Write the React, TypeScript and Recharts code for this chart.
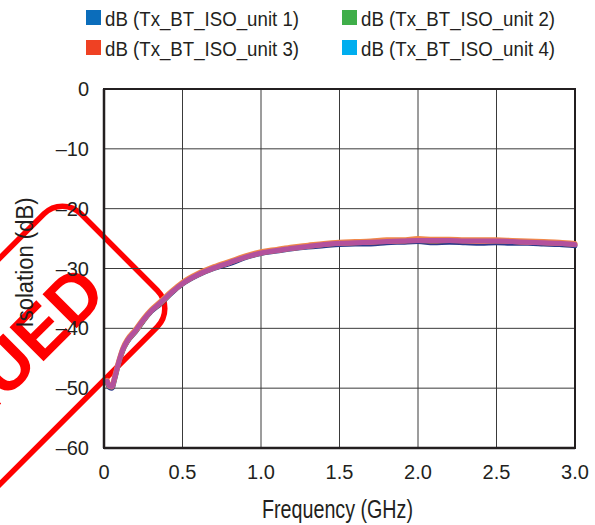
import React from "react";
import {
  LineChart,
  Line,
  XAxis,
  YAxis,
  CartesianGrid,
  ReferenceArea,
} from "recharts";

// frequency points (GHz)
const freqs = [
  0.02, 0.035, 0.05, 0.07, 0.09, 0.12, 0.15, 0.2, 0.25, 0.3, 0.36, 0.43, 0.5,
  0.6, 0.7, 0.8, 0.9, 1.0, 1.1, 1.2, 1.3, 1.4, 1.5, 1.6, 1.7, 1.8, 1.9, 2.0,
  2.1, 2.2, 2.3, 2.4, 2.5, 2.6, 2.7, 2.8, 2.9, 3.0,
];

// isolation per unit (dB)
const unit1 = [
  -49.0, -49.9, -50.0, -48.3, -46.2, -43.7, -42.2, -40.6, -38.8, -37.2, -35.9,
  -34.1, -32.6, -31.1, -30.0, -29.2, -28.2, -27.5, -27.1, -26.7, -26.4, -26.2,
  -26.0, -25.9, -25.9, -25.7, -25.6, -25.5, -25.7, -25.6, -25.7, -25.8, -25.7,
  -25.8, -25.8, -25.9, -26.0, -26.2,
];
const unit2 = [
  -48.9, -49.7, -49.8, -48.1, -46.1, -43.6, -42.1, -40.5, -38.7, -37.1, -35.8,
  -34.0, -32.5, -31.0, -29.9, -29.0, -28.1, -27.4, -27.0, -26.6, -26.3, -26.0,
  -25.8, -25.7, -25.6, -25.5, -25.4, -25.3, -25.4, -25.3, -25.4, -25.5, -25.4,
  -25.5, -25.6, -25.7, -25.8, -26.0,
];
const unit3 = [
  -48.7, -49.5, -49.6, -47.8, -45.8, -43.3, -41.8, -40.2, -38.4, -36.9, -35.5,
  -33.8, -32.3, -30.8, -29.7, -28.8, -27.9, -27.2, -26.8, -26.4, -26.1, -25.8,
  -25.6, -25.5, -25.4, -25.2, -25.2, -25.0, -25.1, -25.1, -25.2, -25.2, -25.2,
  -25.3, -25.4, -25.5, -25.6, -25.8,
];
const unit4 = [
  -48.8, -49.6, -49.7, -48.0, -46.0, -43.5, -42.0, -40.4, -38.6, -37.1, -35.7,
  -34.0, -32.5, -31.0, -29.9, -29.0, -28.1, -27.4, -27.0, -26.6, -26.3, -26.0,
  -25.8, -25.7, -25.6, -25.5, -25.4, -25.3, -25.3, -25.3, -25.4, -25.4, -25.4,
  -25.5, -25.6, -25.7, -25.8, -26.0,
];

const xTicks = [0, 0.5, 1.0, 1.5, 2.0, 2.5, 3.0];
const yTicks = [0, -10, -20, -30, -40, -50, -60];

const legendItems = [
  { name: "dB (Tx_BT_ISO_unit 1)", color: "#0b6dbb" },
  { name: "dB (Tx_BT_ISO_unit 2)", color: "#3fae49" },
  { name: "dB (Tx_BT_ISO_unit 3)", color: "#ef4123" },
  { name: "dB (Tx_BT_ISO_unit 4)", color: "#00aeef" },
];

// colours the traces actually show up as in the plot
const traceColors = ["#2d3a8c", "#e98a4e", "#f0884a", "#b3519d"];

const data = freqs.map((f, i) => ({
  f,
  u1: unit1[i],
  u2: unit2[i],
  u3: unit3[i],
  u4: unit4[i],
}));

const FONT = "'Liberation Sans', Arial, sans-serif";
const INK = "#231f20";

const YTitle = (props: any) => {
  const vb = props.viewBox || { y: 89, height: 359 };
  const bx = 33;
  const cy = vb.y + vb.height / 2 - 6;
  return (
    <text
      x={bx}
      y={cy}
      transform={`rotate(-90 ${bx} ${cy})`}
      textAnchor="middle"
      fontSize={23}
      fontFamily={FONT}
      fill={INK}
      textLength={130}
      lengthAdjust="spacingAndGlyphs"
    >
      Isolation (dB)
    </text>
  );
};

const XTitle = (props: any) => {
  const vb = props.viewBox || { x: 104, width: 471 };
  return (
    <text
      x={vb.x + vb.width / 2 - 2}
      y={518}
      textAnchor="middle"
      fontSize={25}
      fontFamily={FONT}
      fill={INK}
      textLength={151}
      lengthAdjust="spacingAndGlyphs"
    >
      Frequency (GHz)
    </text>
  );
};

function Stamp() {
  return (
    <svg
      width={595}
      height={525}
      style={{ position: "absolute", left: 0, top: 0, zIndex: 0 }}
    >
      <g transform="translate(119,252) rotate(-45)">
        <rect
          x={-540}
          y={-80}
          width={540}
          height={160}
          rx={26}
          fill="none"
          stroke="#ff0000"
          strokeWidth={5.5}
        />
        <text
          x={-38}
          y={0}
          textAnchor="end"
          dominantBaseline="central"
          fontSize={70}
          fontWeight="bold"
          fontFamily={FONT}
          fill="#ff0000"
        >
          DISCONTINUED
        </text>
      </g>
    </svg>
  );
}

function LegendBox() {
  return (
    <svg
      width={595}
      height={70}
      style={{ position: "absolute", left: 0, top: 0, zIndex: 2 }}
    >
      {legendItems.map((item, i) => {
        const x = i % 2 === 0 ? 86 : 342;
        const y = i < 2 ? 10 : 40;
        return (
          <g key={item.name}>
            <rect x={x} y={y} width={15} height={15} fill={item.color} />
            <text
              x={x + 19}
              y={y + 16}
              fontSize={21}
              fontFamily={FONT}
              fill={INK}
              textLength={194}
              lengthAdjust="spacingAndGlyphs"
            >
              {item.name}
            </text>
          </g>
        );
      })}
    </svg>
  );
}

export default function App() {
  const keys = ["u1", "u2", "u3", "u4"];
  return (
    <div
      style={{
        position: "absolute",
        left: 0,
        top: 0,
        width: 595,
        height: 525,
        background: "#fff",
        overflow: "hidden",
      }}
    >
      <Stamp />
      <LegendBox />

      <div style={{ position: "absolute", left: 0, top: 0, zIndex: 1 }}>
        <LineChart
          width={595}
          height={525}
          data={data}
          margin={{ top: 89, right: 20, bottom: 0, left: 0 }}
        >
          <CartesianGrid stroke="#3a3a3a" strokeWidth={1} />
          <XAxis
            dataKey="f"
            type="number"
            domain={[0, 3]}
            ticks={xTicks}
            height={77}
            tickSize={0}
            tickMargin={17}
            tickLine={false}
            axisLine={{ stroke: INK, strokeWidth: 2.5 }}
            tick={{ fontSize: 20, fontFamily: FONT, fill: INK }}
            tickFormatter={(v: number) => (v === 0 ? "0" : v.toFixed(1))}
            label={XTitle}
          />
          <YAxis
            type="number"
            domain={[-60, 0]}
            ticks={yTicks}
            width={104}
            tickSize={0}
            tickMargin={15}
            tickLine={false}
            axisLine={{ stroke: INK, strokeWidth: 2.5 }}
            tick={{ fontSize: 20, fontFamily: FONT, fill: INK }}
            tickFormatter={(v: number) => (v < 0 ? "\u2013" + Math.abs(v) : String(v))}
            label={YTitle}
          />
          <ReferenceArea
            x1={0}
            x2={3}
            y1={-60}
            y2={0}
            fill="none"
            fillOpacity={0}
            stroke={INK}
            strokeWidth={2}
          />
          {keys.map((k, i) => (
            <Line
              key={k}
              dataKey={k}
              name={legendItems[i].name}
              type="monotone"
              stroke={traceColors[i]}
              strokeWidth={5}
              strokeLinecap="round"
              dot={false}
              isAnimationActive={false}
            />
          ))}
        </LineChart>
      </div>
    </div>
  );
}
